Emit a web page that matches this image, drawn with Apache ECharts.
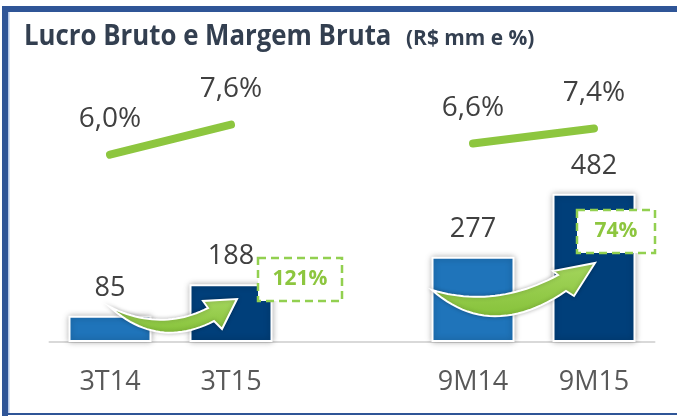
<!DOCTYPE html>
<html>
<head>
<meta charset="utf-8">
<script src="https://cdn.jsdelivr.net/npm/echarts@6/dist/echarts.min.js"></script>
<style>
  html, body { margin: 0; padding: 0; background: #fff; }
  #chart { width: 677px; height: 416px; }
</style>
</head>
<body>
<div id="chart"></div>
<script>
const categories = ['3T14', '3T15', '', '9M14', '9M15']
const lucroBruto = [85, 188, null, 277, 482]
const margemBruta = [6.0, 7.6, null, 6.6, 7.4]
const crescimento = [
  { from: '3T14', to: '3T15', label: '121%' },
  { from: '9M14', to: '9M15', label: '74%' }
]

const lightBlue = '#1F74BA'
const darkBlue = '#003F7A'
const green = '#8DC63F'
const frameBlue = '#2F5597'

const chart = echarts.init(document.getElementById('chart'))

const barData = lucroBruto.map((v, i) => ({
  value: v,
  itemStyle: { color: i === 0 || i === 3 ? lightBlue : darkBlue }
}))

chart.setOption({
  animation: false,
  textStyle: { fontFamily: 'Open Sans' },
  grid: { left: 49.5, right: 22.5, top: 61, bottom: 74 },
  xAxis: {
    type: 'category',
    data: categories,
    axisLine: { lineStyle: { color: '#D9D9D9', width: 2 } },
    axisTick: { show: false },
    axisLabel: { color: '#595959', fontSize: 27, margin: 27 }
  },
  yAxis: [
    { type: 'value', min: 0, max: 913, show: false },
    { type: 'value', min: -4, max: 11, show: false }
  ],
  series: [
    {
      type: 'bar',
      data: barData,
      barWidth: 83,
      itemStyle: {
        borderColor: '#fff', borderWidth: 2,
        shadowBlur: 6, shadowColor: 'rgba(0,0,0,0.3)'
      },
      label: {
        show: true, position: 'top', distance: 14,
        color: '#404040', fontSize: 27
      }
    },
    {
      type: 'line',
      yAxisIndex: 1,
      data: margemBruta,
      connectNulls: false,
      showSymbol: true,
      symbol: 'circle',
      symbolSize: 1,
      itemStyle: { color: green },
      lineStyle: { color: green, width: 8, cap: 'round' },
      label: {
        show: true, position: 'top', distance: 21,
        color: '#404040', fontSize: 28,
        formatter: p => p.value.toFixed(1).replace('.', ',') + '%'
      },
      z: 3
    }
  ]
})

// seta curva: contorno amostrado das curvas quadraticas
function quad(p0, c, p1, n) {
  const pts = []
  for (let k = 0; k <= n; k++) {
    const t = k / n, u = 1 - t
    pts.push([u * u * p0[0] + 2 * u * t * c[0] + t * t * p1[0], u * u * p0[1] + 2 * u * t * c[1] + t * t * p1[1]])
  }
  return pts
}
function arrowPoints(o, s) {
  const a = v => [o[0] + v[0], o[1] + v[1]]
  return quad(a(s.t), a(s.cl), a(s.l1), 24)
    .concat([a(s.lb), a(s.h), a(s.ub)])
    .concat(quad(a(s.u1), a(s.cu), a(s.t), 24).slice(0, -1))
}
const arrowShapes = [
  { t: [0, -35], cl: [48, 8], l1: [104, -21], lb: [112, -13], h: [127, -43], ub: [93, -41], u1: [98, -34], cu: [51, -10] },
  { t: [-41, -52], cl: [18, 0], l1: [93, -51], lb: [101, -46], h: [122, -79], ub: [80, -71], u1: [85, -67], cu: [22, -33] }
]
const boxes = [
  { x: 27, y: -84, w: 84, h: 43 },
  { x: -17, y: -132, w: 78, h: 43 }
]

const graphics = [
  { type: 'rect', shape: { x: 2, y: 6, width: 675, height: 6 }, style: { fill: frameBlue }, z: 200 },
  { type: 'rect', shape: { x: 2, y: 6, width: 6, height: 410 }, style: { fill: frameBlue }, z: 200 },
  { type: 'rect', shape: { x: 8, y: 12, width: 1.5, height: 401 }, style: { fill: '#B4C7E7' }, z: 200 },
  { type: 'rect', shape: { x: 2, y: 413, width: 675, height: 2 }, style: { fill: frameBlue }, z: 200 },
  {
    type: 'text', x: 24, y: 22, scaleX: 0.89, z: 200,
    style: {
      text: 'Lucro Bruto e Margem Bruta', verticalAlign: 'top',
      fontFamily: 'Open Sans', fontWeight: 'bold', fontSize: 29, fill: '#333F50'
    }
  },
  {
    type: 'text', x: 406, y: 28, scaleX: 0.95, z: 200,
    style: {
      text: '(R$ mm e %)', verticalAlign: 'top',
      fontFamily: 'Open Sans', fontWeight: 'bold', fontSize: 22, fill: '#333F50'
    }
  }
]

crescimento.forEach((c, i) => {
  const o = chart.convertToPixel({ xAxisIndex: 0, yAxisIndex: 0 }, [c.from, 0])
  const d = chart.convertToPixel({ xAxisIndex: 0, yAxisIndex: 0 }, [c.to, 0])
  graphics.push({
    type: 'polygon', z: 100,
    shape: { points: arrowPoints(o, arrowShapes[i]) },
    style: {
      fill: {
        type: 'linear', x: 0, y: 0, x2: 0, y2: 1,
        colorStops: [{ offset: 0, color: '#A5D65E' }, { offset: 1, color: '#86C23A' }]
      },
      stroke: '#fff', lineWidth: 2, lineJoin: 'miter',
      shadowBlur: 4, shadowColor: 'rgba(0,0,0,0.25)'
    }
  })
  const b = boxes[i]
  graphics.push({
    type: 'rect', z: 100,
    shape: { x: d[0] + b.x, y: d[1] + b.y, width: b.w, height: b.h },
    style: { fill: '#fff', stroke: '#92D050', lineWidth: 2.5, lineDash: [8, 5] }
  })
  graphics.push({
    type: 'text', z: 101,
    x: d[0] + b.x + b.w / 2, y: d[1] + b.y + b.h / 2,
    style: {
      text: c.label, fill: '#8DC63F', fontFamily: 'Open Sans', fontWeight: 'bold',
      fontSize: 21, align: 'center', verticalAlign: 'middle'
    }
  })
})

chart.setOption({ graphic: graphics })
</script>
</body>
</html>
